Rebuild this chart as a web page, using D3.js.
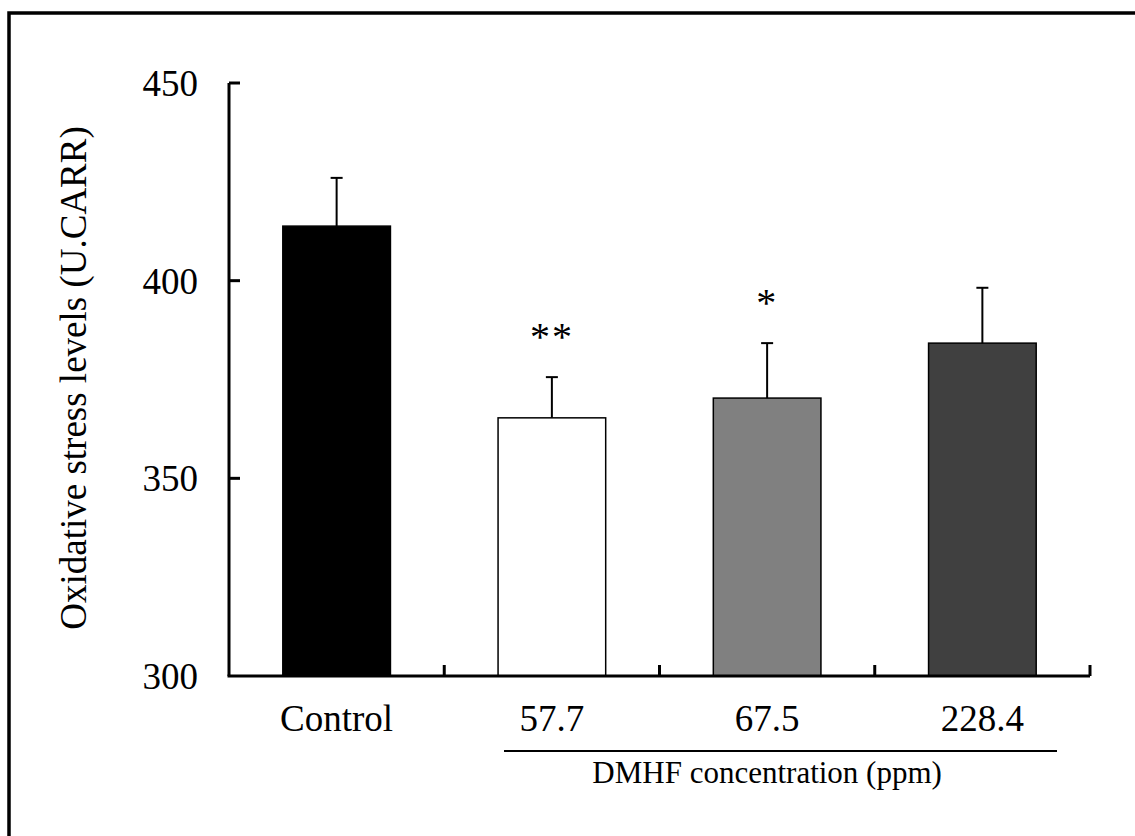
<!DOCTYPE html>
<html>
<head>
<meta charset="utf-8">
<script src="https://cdn.jsdelivr.net/npm/d3@7"></script>
<style>
  body { margin: 0; background: #fff; }
</style>
</head>
<body>
<div id="container"></div>
<script>
// chart data
const groups = ['Control', '57.7', '67.5', '228.4'];
const means = [413.8, 365.3, 370.3, 384.2];
const errors = [12.2, 10.3, 13.9, 14.0];
const marks = ['', '**', '*', ''];
const fills = ['#000000', '#ffffff', '#808080', '#404040'];
const yTicks = [300, 350, 400, 450];

const width = 1135, height = 836;
const margin = { left: 229, right: 45, top: 83, bottom: 160 };
const serif = 'Liberation Serif';

const svg = d3.select('#container').append('svg')
    .attr('width', width)
    .attr('height', height);

// outer frame (runs off the right/bottom edge like the original)
svg.append('rect')
    .attr('x', 9).attr('y', 13)
    .attr('width', 1200).attr('height', 900)
    .style('fill', 'none')
    .style('stroke', '#000')
    .style('stroke-width', 3.5);

const x = d3.scaleBand()
    .domain(groups)
    .range([margin.left, width - margin.right])
    .paddingInner(0.5)
    .paddingOuter(0.25);

const y = d3.scaleLinear()
    .domain([300, 450])
    .range([height - margin.bottom, margin.top]);

const baseY = y(300);

function addText(sel) {
    return sel.attr('font-family', serif).style('fill', '#000');
}

// bars
svg.selectAll('.bar')
    .data(groups)
    .enter().append('rect')
    .attr('class', 'bar')
    .attr('x', d => x(d))
    .attr('y', (d, i) => y(means[i]))
    .attr('width', x.bandwidth())
    .attr('height', (d, i) => baseY - y(means[i]))
    .style('fill', (d, i) => fills[i])
    .style('stroke', '#000')
    .style('stroke-width', 1.5);

// error bars (upper only)
const err = svg.selectAll('.err')
    .data(groups)
    .enter().append('g')
    .attr('class', 'err');
err.append('line')
    .attr('x1', d => x(d) + x.bandwidth() / 2)
    .attr('x2', d => x(d) + x.bandwidth() / 2)
    .attr('y1', (d, i) => y(means[i]))
    .attr('y2', (d, i) => y(means[i] + errors[i]))
    .style('stroke', '#000').style('stroke-width', 2);
err.append('line')
    .attr('x1', d => x(d) + x.bandwidth() / 2 - 6)
    .attr('x2', d => x(d) + x.bandwidth() / 2 + 6)
    .attr('y1', (d, i) => y(means[i] + errors[i]))
    .attr('y2', (d, i) => y(means[i] + errors[i]))
    .style('stroke', '#000').style('stroke-width', 2);

// significance marks
addText(svg.selectAll('.sig')
    .data(groups)
    .enter().append('text')
    .attr('class', 'sig')
    .attr('x', d => x(d) + x.bandwidth() / 2)
    .attr('y', (d, i) => y(means[i] + errors[i]) - 27)
    .attr('text-anchor', 'middle')
    .style('font-size', '40px')
    .style('letter-spacing', '2px'))
    .text((d, i) => marks[i]);

// y axis
svg.append('line')
    .attr('x1', margin.left).attr('x2', margin.left)
    .attr('y1', y(450)).attr('y2', baseY)
    .style('stroke', '#000').style('stroke-width', 3);
svg.selectAll('.ytick')
    .data(yTicks.slice(1))
    .enter().append('line')
    .attr('x1', margin.left).attr('x2', margin.left + 11)
    .attr('y1', d => y(d)).attr('y2', d => y(d))
    .style('stroke', '#000').style('stroke-width', 3);
addText(svg.selectAll('.ylab')
    .data(yTicks)
    .enter().append('text')
    .attr('x', margin.left - 31)
    .attr('y', d => y(d))
    .attr('dy', '0.35em')
    .attr('text-anchor', 'end')
    .style('font-size', '37px'))
    .text(d => d);

// x axis
const xEnd = width - margin.right;
svg.append('line')
    .attr('x1', margin.left - 1.5).attr('x2', xEnd)
    .attr('y1', baseY).attr('y2', baseY)
    .style('stroke', '#000').style('stroke-width', 3);
const step = x.step();
svg.selectAll('.xtick')
    .data(groups)
    .enter().append('line')
    .attr('x1', d => x(d) + x.bandwidth() / 2 + step / 2)
    .attr('x2', d => x(d) + x.bandwidth() / 2 + step / 2)
    .attr('y1', baseY).attr('y2', baseY - 11)
    .style('stroke', '#000').style('stroke-width', 3);
addText(svg.selectAll('.xlab')
    .data(groups)
    .enter().append('text')
    .attr('x', d => x(d) + x.bandwidth() / 2)
    .attr('y', baseY + 55)
    .attr('text-anchor', 'middle')
    .style('font-size', '37px'))
    .text(d => d);

// bracket line under the DMHF groups + title
svg.append('line')
    .attr('x1', 504).attr('x2', 1057)
    .attr('y1', baseY + 75).attr('y2', baseY + 75)
    .style('stroke', '#000').style('stroke-width', 2);
addText(svg.append('text')
    .attr('x', (x('57.7') + x('228.4') + x.bandwidth()) / 2)
    .attr('y', baseY + 107)
    .attr('text-anchor', 'middle')
    .style('font-size', '31px'))
    .text('DMHF concentration (ppm)');

// y title
addText(svg.append('text')
    .attr('transform', `translate(86, 378) rotate(-90)`)
    .attr('text-anchor', 'middle')
    .style('font-size', '37px'))
    .text('Oxidative stress levels (U.CARR)');
</script>
</body>
</html>
